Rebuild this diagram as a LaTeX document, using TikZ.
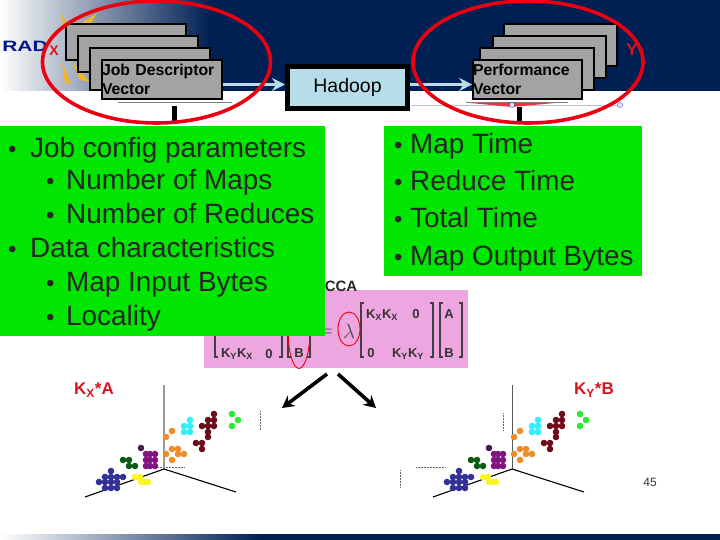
\documentclass[tikz,border=0pt]{standalone}
\usepackage{amsmath}
\usepackage{fontspec}
\setmainfont{Liberation Sans}
\usetikzlibrary{arrows.meta,calc}
\definecolor{navy}{RGB}{0,32,84}
\definecolor{paleblue}{RGB}{183,221,232}
\definecolor{boxgray}{RGB}{163,163,163}
\definecolor{slidegreen}{RGB}{0,230,0}
\definecolor{matrixpink}{RGB}{238,166,224}
\definecolor{ringred}{RGB}{236,0,16}
\definecolor{labelred}{RGB}{214,20,30}
\definecolor{shard}{RGB}{240,180,40}
\definecolor{dotblue}{RGB}{50,50,150}
\definecolor{dotyellow}{RGB}{250,245,40}
\definecolor{dotforest}{RGB}{10,90,20}
\definecolor{dotpurple}{RGB}{130,20,130}
\definecolor{dotplum}{RGB}{80,20,90}
\definecolor{dotorange}{RGB}{240,140,40}
\definecolor{dotcyan}{RGB}{50,240,250}
\definecolor{dotmaroon}{RGB}{110,10,25}
\definecolor{dotgreen}{RGB}{40,235,50}
\tikzset{
  vecbox/.style={draw=black,line width=1.6pt,fill=boxgray,inner sep=0pt,
    font=\fontsize{15.8}{19}\selectfont\bfseries,align=left},
  hadoopbox/.style={draw=black,line width=5pt,fill=paleblue,minimum width=120,minimum height=42,
    font=\fontsize{19.5}{22}\selectfont},
  flowarrow/.style={draw=paleblue,line width=3pt,-{Stealth[length=13pt,width=13pt]}},
  ring/.style={draw=ringred,line width=3.6pt},
  thinring/.style={draw=ringred,line width=0.9pt},
  greenpanel/.style={fill=slidegreen,draw=none,inner sep=0pt},
  bullettext/.style={anchor=base west,inner sep=0pt,font=\fontsize{27.9}{30}\selectfont,text=black!85},
  mathtext/.style={inner sep=0pt,font=\fontsize{13}{15}\selectfont\bfseries,text=black!80},
  bigarrow/.style={draw=black,line width=3.6pt,-{Stealth[length=12pt,width=13pt]}},
  redlabel/.style={inner sep=0pt,text=labelred,font=\fontsize{17}{19}\selectfont\bfseries},
  bracket/.style={draw=black!75,line width=1.1pt},
  dotted axis/.style={draw=black!60,line width=0.5pt,densely dotted}
}
\newcommand{\dotset}[2]{\foreach \a/\b in {#2} \fill[#1] (\a,\b) circle (3.3);}
\begin{document}
\begin{tikzpicture}[x=1pt,y=-1pt]
  \useasboundingbox (0,0) rectangle (720,540);
  % banner
  \fill[navy] (210,0) rectangle (720,91);
  \shade[left color=white,middle color=navy!38!white,right color=navy] (0,0) rectangle (210,91);
  \shade[left color=white,right color=navy] (0,534) rectangle (260,540);
  \fill[navy] (260,534) rectangle (720,540);
  \fill[shard] (62,14) -- (67,24) -- (63,30) -- cycle;
  \fill[shard] (80,24) -- (97,13) -- (88,28) -- cycle;
  \fill[shard] (62,62) -- (71,83) -- (65,84) -- cycle;
  \fill[shard] (72,62) -- (90,82) -- (80,80) -- cycle;
  \node[inner sep=0pt,text=navy!70!blue,font=\fontsize{15}{15}\selectfont\bfseries,xscale=1.4] (radlogo) at (25,46) {RAD};
  \node[inner sep=0pt,text=labelred,font=\fontsize{14}{14}\selectfont\bfseries] (xlabel) at (54,51) {X};
  \node[inner sep=0pt,text=labelred,font=\fontsize{17}{17}\selectfont\bfseries] (ylabel) at (632,50) {Y};
  % lines under the stacks
  \draw[black!50,line width=0.6pt] (118,102) -- (232,102);
  \draw[black!50,line width=0.6pt] (466,102) -- (568,102);
  \draw[blue!25!black!25,line width=0.8pt] (412,105) -- (620,105);
  \fill[ringred!80] (470,103) -- (512,107) -- (555,103) -- cycle;
  \foreach \hx/\hname in {512/handlea,620/handleb}
    \node[draw=blue!40!gray,fill=blue!10,circle,inner sep=0pt,minimum size=5] (\hname) at (\hx,105) {};
  \fill[black] (171.5,106) rectangle (176.5,121);
  \fill[black] (516.5,107) rectangle (521.5,121);
  % stacks
  \foreach \n/\cx/\cy/\w/\h in {joba/126/42/120/36,jobb/138/54/120/36,jobc/150/69/120/42,
      perfa/560.5/45/113/42,perfb/549.5/57/113/42,perfc/537/69/114/42}
    \node[vecbox,minimum width=\w,minimum height=\h] (\n) at (\cx,\cy) {};
  \node[vecbox,minimum width=120,minimum height=39,text width=120] (jobvec) at (162,79.5) {Job Descriptor\\Vector};
  \node[vecbox,minimum width=109,minimum height=39,text width=109] (perfvec) at (527.5,79.5) {Performance\\Vector};
  \node[hadoopbox] (hadoop) at (347.5,87.5) {Hadoop};
  \draw[flowarrow] ([yshift=-5pt]jobvec.east) -- ([yshift=3pt]hadoop.west);
  \draw[flowarrow] ([yshift=3pt]hadoop.east) -- ([yshift=-5pt]perfvec.west);
  % rings
  \draw[ring] (156.5,62) ellipse (114 and 61);
  \draw[ring] (528,62) ellipse (115 and 61);
  % matrix equation
  \fill[matrixpink] (204,290) rectangle (468,368);
  \node[inner sep=0pt,font=\fontsize{15}{17}\selectfont\bfseries,text=black!85] (ccalabel) at (341,286) {CCA};
  \node[mathtext] (lkykx) at (237,354) {K\textsubscript{Y}K\textsubscript{X}};
  \node[mathtext] (lzero) at (269,354) {0};
  \node[mathtext] (lb) at (299,353) {B};
  \node[inner sep=0pt,font=\fontsize{15}{15}\selectfont,text=black!60] (equals) at (328,333) {=};
  \node[inner sep=0pt,font=\fontsize{21}{21}\selectfont,text=black!70] (lambda) at (349,331) {$\lambda$};
  \node[mathtext] (rkxkx) at (382,315) {K\textsubscript{X}K\textsubscript{X}};
  \node[mathtext] (rzeroa) at (416,314) {0};
  \node[mathtext] (rzerob) at (371,353) {0};
  \node[mathtext] (rkyky) at (408,354) {K\textsubscript{Y}K\textsubscript{Y}};
  \node[mathtext] (ra) at (449,314) {A};
  \node[mathtext] (rb) at (449,353) {B};
  \draw[bracket] (218,303) -| (215,357) -- (218,357);
  \draw[bracket] (279,357) -- (282,357) |- (279,303);
  \draw[bracket] (291,303) -| (288,357) -- (291,357);
  \draw[bracket] (307,357) -- (310,357) |- (307,303);
  \draw[bracket] (364,303) -| (361,357) -- (364,357);
  \draw[bracket] (430,303) -- (433,303) |- (430,357);
  \draw[bracket] (443,303) -| (440,357) -- (443,357);
  \draw[bracket] (459,303) -- (462,303) |- (459,357);
  \draw[thinring] (349,329) ellipse (11 and 17);
  \draw[thinring] (299,330) ellipse (11 and 38.5);
  % green panels
  \fill[greenpanel] (0,126) rectangle (325,336);
  \fill[greenpanel] (384,126) rectangle (642,276);
  \foreach \n/\bx/\tx/\ty/\txt in {cfg/8/30/158/Job config parameters,maps/46/66/190/Number of Maps,
      reduces/46/66/224/Number of Reduces,data/8/30/258/Data characteristics,
      bytes/46/66/291/Map Input Bytes,locality/46/66/325/Locality,
      maptime/394/410/154/Map Time,redtime/394/410/191/Reduce Time,
      tottime/394/410/228/Total Time,outbytes/394/410/265/Map Output Bytes}
    \node[bullettext] (\n) at (\tx,\ty) {\makebox[0pt][l]{\hspace{\bx pt}\hspace{-\tx pt}\fontsize{24}{24}\selectfont\textbullet}\txt};
  % arrows to the plots
  \coordinate (plota) at (282,408);
  \coordinate (plotb) at (376,408);
  \coordinate (splita) at (327,374);
  \coordinate (splitb) at (338,374);
  \draw[bigarrow] (splita) -- (plota);
  \draw[bigarrow] (splitb) -- (plotb);
  \node[redlabel] (kxa) at (94,390) {K\textsubscript{X}*A};
  \node[redlabel] (kyb) at (594,390) {K\textsubscript{Y}*B};
  \node[inner sep=0pt,font=\fontsize{12}{14}\selectfont,text=black!80] (pagenum) at (650,482) {45};
  % dotted marks
  \draw[dotted axis] (158,467) -- (185,467);
  \draw[dotted axis] (260,411) -- (260,430);
  \draw[dotted axis] (503,413) -- (503,430);
  \draw[dotted axis] (416,467) -- (446,467);
  \draw[dotted axis] (400,470) -- (400,487);
  % scatter plots
  \foreach \ox/\axcol/\axw in {164/black!40/1.8,512/black!65/1} {
    \begin{scope}[shift={(\ox,469)}]
      \draw[\axcol,line width=\axw pt] (0,0) -- (0,-84);
      \draw[black,line width=1.1pt] (0,0) -- (-79,28);
      \draw[black,line width=1.1pt] (0,0) -- (72,23);
      \dotset{dotblue}{-53/2,-53/8,-53/13,-59/13,-65/13,-47/8,-47/13,-41/8,-59/19,-47/19,-59/8,-53/19}
      \dotset{dotyellow}{-29/8,-24/8,-23/13,-19/13,-16/13}
      \dotset{dotforest}{-41/-9,-35/-9,-35/-3,-29/-3}
      \dotset{dotpurple}{-18/-15,-14/-15,-9/-15,-18/-9,-14/-9,-9/-9,-18/-3,-14/-3,-9/-3}
      \dotset{dotplum}{-23/-21}
      \dotset{dotorange}{8/-38,2/-32,8/-20,14/-20,2/-15,14/-15,20/-15,8/-9}
      \dotset{dotcyan}{26/-49,20/-43,26/-43,20/-37,26/-37}
      \dotset{dotmaroon}{50/-55,44/-49,50/-49,38/-43,44/-43,50/-43,44/-37,44/-32,32/-26,38/-26,38/-20}
      \dotset{dotgreen}{68/-55,74/-49,68/-43}
    \end{scope}
  }
\end{tikzpicture}
\end{document}
